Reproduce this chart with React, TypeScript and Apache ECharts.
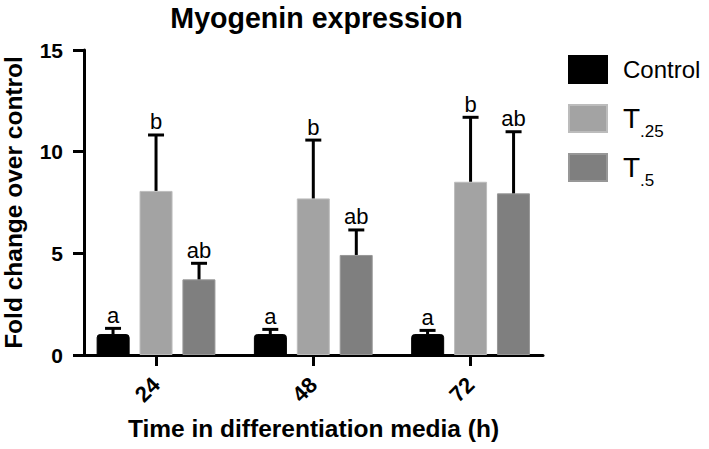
import React, { useEffect, useRef } from "react";
import * as echarts from "echarts";

const categories = ["24", "48", "72"];
const seriesNames = ["Control", "T.25", "T.5"];
const controlMean = [1.03, 1.03, 1.03];
const controlTop = [1.31, 1.26, 1.21];
const t25Mean = [8.07, 7.7, 8.52];
const t25Top = [10.82, 10.57, 11.69];
const t5Mean = [3.72, 4.92, 7.95];
const t5Top = [4.51, 6.15, 10.98];
const controlLetters = ["a", "a", "a"];
const t25Letters = ["b", "b", "b"];
const t5Letters = ["ab", "ab", "ab"];
const yTicks = { min: 0, max: 15, interval: 5 };

const colors = ["#000000", "#a3a3a3", "#7f7f7f"];
const borders = ["#000000", "#bcbcbc", "#979797"];
const FONT = "'Liberation Sans', Arial, sans-serif";

export default function App() {
  const ref = useRef<HTMLDivElement>(null);
  useEffect(() => {
    if (!ref.current) return;
    const chart = echarts.init(ref.current, null, { renderer: "svg" });
    const means = [controlMean, t25Mean, t5Mean];
    const tops = [controlTop, t25Top, t5Top];
    const letters = [controlLetters, t25Letters, t5Letters];
    const offsets = [-43, 0, 43];

    const barSeries = seriesNames.map((name, si) => ({
      name,
      type: "bar",
      xAxisIndex: 1,
      yAxisIndex: 1,
      barWidth: 33,
      barGap: "30%",
      data: means[si],
      itemStyle: {
        color: colors[si],
        borderColor: borders[si],
        borderWidth: 1,
        borderRadius: si === 0 ? [3, 3, 0, 0] : 0,
      },
      z: 2,
    }));

    const errSeries = seriesNames.map((name, si) => ({
      name: "err_" + name,
      type: "custom",
      xAxisIndex: 1,
      yAxisIndex: 1,
      z: 3,
      data: categories.map((c, i) => [i, means[si][i], tops[si][i]]),
      renderItem: (params: any, api: any) => {
        const ci = api.value(0);
        const base = api.coord([ci, api.value(1)]);
        const top = api.coord([ci, api.value(2)]);
        const x = base[0] + offsets[si];
        return {
          type: "group",
          children: [
            {
              type: "line",
              shape: { x1: x, y1: base[1], x2: x, y2: top[1] },
              style: { stroke: "#000", lineWidth: 3 },
            },
            {
              type: "line",
              shape: { x1: x - 8, y1: top[1], x2: x + 8, y2: top[1] },
              style: { stroke: "#000", lineWidth: 3 },
            },
            {
              type: "text",
              x: x,
              y: top[1] - 2,
              style: {
                text: letters[si][params.dataIndex],
                fontSize: 22,
                fontFamily: FONT,
                fill: "#000",
                align: "center",
                verticalAlign: "bottom",
              },
            },
          ],
        };
      },
    }));

    const legendTops = [50, 99, 148];
    const legendText = {
      rich: {
        n: { fontSize: 24, fontFamily: FONT, color: "#000", padding: [0, 0, 0, 11] },
        t: { fontSize: 28, fontFamily: FONT, color: "#000", padding: [0, 0, 0, 11] },
        s: { fontSize: 17, fontFamily: FONT, color: "#000", padding: [26, 0, 0, 0] },
      },
    };
    const legends = seriesNames.map((name, i) => ({
      data: [name],
      orient: "vertical",
      left: 563,
      top: legendTops[i],
      itemWidth: 38,
      itemHeight: 27,
      icon: "rect",
      selectedMode: false,
      formatter: (n: string) => (n === "Control" ? "{n|Control}" : "{t|T}{s|" + n.slice(1) + "}"),
      textStyle: legendText,
    }));

    chart.setOption({
      animation: false,
      backgroundColor: "#ffffff",
      title: {
        text: "Myogenin expression",
        left: 311.5,
        textAlign: "center",
        top: -2,
        textStyle: { fontSize: 28.6, fontWeight: "bold", color: "#000", fontFamily: FONT },
      },
      legend: legends,
      grid: [
        { left: 84, top: 50, width: 459, height: 305, outerBoundsMode: "none", containLabel: false },
        { left: 77.4, top: 50, width: 471.8, height: 305, outerBoundsMode: "none", containLabel: false },
      ],
      xAxis: [
        {
          type: "category",
          gridIndex: 0,
          data: categories,
          axisLine: { lineStyle: { color: "#000", width: 3 } },
          axisTick: { show: false },
          axisLabel: { show: false },
          name: "Time in differentiation media (h)",
          nameLocation: "middle",
          nameGap: 61,
          nameTextStyle: { fontSize: 24.5, fontWeight: "bold", color: "#000", fontFamily: FONT },
        },
        {
          type: "category",
          gridIndex: 1,
          data: categories,
          axisLine: { show: false },
          axisTick: { show: true, alignWithLabel: true, length: 11, lineStyle: { color: "#000", width: 3 } },
          axisLabel: {
            rotate: 45,
            fontSize: 22,
            fontWeight: "bold",
            color: "#000",
            fontFamily: FONT,
            margin: 26,
          },
        },
      ],
      yAxis: [
        {
          type: "value",
          gridIndex: 0,
          min: yTicks.min,
          max: yTicks.max,
          interval: yTicks.interval,
          axisLine: { show: true, lineStyle: { color: "#000", width: 3 } },
          axisTick: { show: true, length: 11, lineStyle: { color: "#000", width: 3 } },
          axisLabel: { fontSize: 21, fontWeight: "bold", color: "#000", fontFamily: FONT, margin: 21 },
          splitLine: { show: false },
          name: "Fold change over control",
          nameLocation: "middle",
          nameGap: 58,
          nameTextStyle: { fontSize: 24.5, fontWeight: "bold", color: "#000", fontFamily: FONT },
        },
        {
          type: "value",
          gridIndex: 1,
          min: yTicks.min,
          max: yTicks.max,
          interval: yTicks.interval,
          show: false,
        },
      ],
      series: [...barSeries, ...errSeries],
    });
    return () => chart.dispose();
  }, []);
  return <div ref={ref} style={{ width: 709, height: 449, position: "absolute", left: 0, top: 0 }} />;
}
